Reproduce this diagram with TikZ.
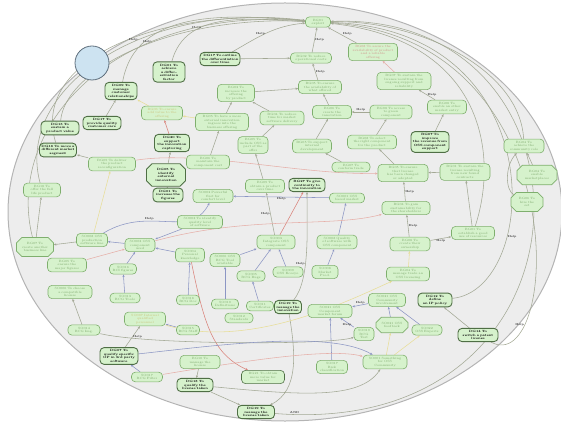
\documentclass[tikz,border=0pt]{standalone}
\usepackage{tikz}
\usetikzlibrary{arrows.meta, shapes.misc}

\definecolor{goalfill}{HTML}{D6F2CC}
\definecolor{goalline}{HTML}{7FAF6E}
\definecolor{goaltext}{HTML}{7DA86C}
\definecolor{goaldark}{HTML}{4F6F45}
\definecolor{yeltext}{HTML}{C9C07A}
\definecolor{pinktext}{HTML}{D0908A}
\definecolor{ovalfill}{HTML}{EDEDED}
\definecolor{ovalline}{HTML}{B4B4B4}
\definecolor{linkgray}{HTML}{A3A894}
\definecolor{linkblue}{HTML}{8C96C4}
\definecolor{linkpink}{HTML}{E6AFA8}
\definecolor{linkred}{HTML}{D9827A}
\definecolor{linkyellow}{HTML}{E8DE98}
\definecolor{actorfill}{HTML}{CDE3F1}
\definecolor{actorline}{HTML}{5E6E7C}

\pgfdeclarelayer{back}
\pgfsetlayers{back,main}

\begin{document}
\begin{tikzpicture}[x=1pt, y=-1pt,
        goal/.style={rectangle, draw=goalline, fill=goalfill, text=goaltext, rounded corners=4pt, align=center, text width=28pt, inner xsep=1.5pt, inner ysep=2pt, line width=0.6pt, font=\fontsize{3.1}{3.5}\selectfont},
        dgoal/.style={goal, draw=goaldark, text=black, line width=0.9pt, font=\fontsize{3.1}{3.5}\selectfont\bfseries},
        hexa/.style={chamfered rectangle, chamfered rectangle xsep=2.5pt, sharp corners},
        line/.style={draw=linkgray, line width=0.55pt, -{Stealth[length=2.6pt, width=2.2pt]}},
        bline/.style={line, draw=linkblue},
        pline/.style={line, draw=linkpink},
        rline/.style={line, draw=linkred},
        yline/.style={line, draw=linkyellow},
        hlp/.style={font=\fontsize{2.8}{3}\selectfont\bfseries, inner sep=0.4pt, text=black!80}
        ]
        \useasboundingbox (0,0) rectangle (561,430);
        \begin{pgfonlayer}{back}
          \draw[fill=ovalfill, draw=ovalline, line width=1pt] (285,212) ellipse [x radius=277pt, y radius=209pt];
        \end{pgfonlayer}
        \node[circle, draw=actorline, fill=actorfill, line width=0.8pt, minimum size=34pt] (actor) at (92,63) {};

        % upper goals
        \node[goal, text width=22pt] (exploit) at (318,22) {BG01\\exploit};
        \node[dgoal, text width=37pt] (outline) at (220,59) {DG17 To outline\\the differentiation\\over time};
        \node[goal, text width=38pt] (reducecost) at (311,58) {BG02 To reduce\\operational costs};
        \node[goal, text width=46pt, text=pinktext] (availab) at (373,52) {BG08 To assure the\\availability of product\\and a reliable\\offering};
        \node[dgoal, text width=29pt] (differ) at (169,72) {DG01 To achieve\\a differentiation\\factor};
        \node[dgoal, text width=29pt] (custrel) at (121,91) {DG09 To\\manage\\customer\\relationships};
        \node[goal, text width=40pt] (ensureavail) at (320,87) {BG05 To ensure\\the availability of\\what offered};
        \node[goal, text width=34pt] (incbusiness) at (236,93) {BG03 To\\increase the\\offering\\by product};
        \node[goal, text width=51pt] (sustainlic) at (404,81) {BG07 To sustain the\\license resulting from\\ongoing support and\\reliability};
        \node[goal, text width=38pt, text=yeltext] (addvalue) at (162,113) {BG06 To ensure\\add value to the\\offering};
        \node[dgoal, text width=35pt] (prodvalue) at (60,128) {DG13 To\\sustain a\\product value};
        \node[dgoal, text width=35pt] (custcare) at (102,123) {DG17 To\\provide quality\\customer care};
        \node[goal, text width=50pt] (extinnov) at (222,122) {BG05 To have a more\\external innovation\\ingress into the\\business offering};
        \node[goal, text width=41pt] (ttm) at (282,118) {BG04 To reduce\\time for market\\software delivery};
        \node[goal, text width=36pt] (createinnov) at (332,112) {BG06 To\\create the\\innovation};
        \node[goal, text width=39pt] (accessgreen) at (391,112) {BG08 To access\\to green\\component};
        \node[goal, text width=36pt] (othermarket) at (447,107) {BG08 To\\enable an other\\market entry};
        \node[dgoal, text width=32pt] (capture) at (172,143) {DG20 To support\\the innovation\\capturing};
        \node[dgoal, text width=34pt] (segment) at (58,150) {DG16 To move a\\different market\\segment};
        \node[goal, text width=44pt] (deliver) at (112,164) {BG05 To deliver\\the product\\reconfiguration};
        \node[dgoal, hexa, text width=31pt] (identify) at (166,175) {DG05 To\\identify external\\innovation};
        \node[goal, text width=27pt] (includeoss) at (253,145) {BG05 To\\include OSS as\\part of the\\offer};
        \node[goal, text width=36pt] (internaldev) at (312,146) {BG05 To support\\internal\\development};
        \node[goal, text width=46pt] (selectcomp) at (372,142) {BG08 To select\\the right component\\for the product};
        \node[dgoal, text width=35pt] (revenue) at (430,142) {BG07 To improve\\the revenue from\\OSS component\\support};
        \node[goal, text width=37pt] (communityrole) at (524,146) {BG04 To\\achieve the\\community role};

        % middle goals
        \node[goal, text width=34pt] (fulllife) at (42,190) {BG18 To\\offer the full\\life product};
        \node[dgoal, text width=27pt] (figures) at (168,195) {DG01 To\\increase the\\figures};
        \node[goal, text width=40pt] (compcost) at (208,162) {BG06 To\\maintain the\\component cost};
        \node[goal, text width=35pt] (conform) at (351,167) {BG07 To\\conform trade};
        \node[goal, text width=47pt] (licchanged) at (403,173) {BG05 To ensure\\that license\\has been changed\\or adopted};
        \node[goal, text width=47pt] (newcontract) at (465,172) {BG01 To sustain the\\license resulting\\from new found\\contracts};
        \node[goal, hexa, text width=32pt] (marketplaces) at (537,175) {BG04 To\\enable\\marketplaces};
        \node[goal, text width=36pt] (obtainprod) at (265,186) {BG09 To\\obtain a product\\over time};
        \node[dgoal, text width=33pt] (continuity) at (307,185) {BG27 To give\\continuity to\\the innovation};
        \node[goal, text width=37pt] (powerful) at (213,196) {SO002 Powerful\\first for\\comfort level};
        \node[goal, text width=32pt] (ossmarket) at (347,198) {SO001 OSS\\based market};
        \node[goal, hexa, text width=24pt] (hireset) at (527,202) {BG06 To\\hire the\\set};
        \node[goal, text width=45pt] (shareholders) at (406,208) {BG04 To gain\\sustainability for\\the shareholders};
        \node[goal, text width=42pt] (qualitylevel) at (200,222) {SO003 To identify\\quality level\\of software};
        \node[goal, text width=40pt] (resources) at (473,233) {BG01 To\\establish a good\\use of resources};
        \node[goal, hexa, text width=29pt] (busline) at (35,247) {BG07 To\\create another\\business line};
        \node[goal, text width=28pt] (prodline) at (92,240) {SO008 OSS\\production\\software line};
        \node[goal, text width=27pt] (compused) at (140,245) {SO003 OSS\\component\\used};
        \node[goal, text width=35pt] (integrate) at (276,242) {SO003\\Integrate OSS\\component};
        \node[goal, text width=37pt] (qualitysw) at (337,242) {SO008 Quality\\of software with\\OSS component};
        \node[goal, text width=37pt] (ownership) at (410,244) {BG08 To\\create their\\ownership};
        \node[goal, text width=36pt] (majorfig) at (67,265) {BG05 To\\ensure the\\major figures};
        \node[goal, text width=24pt] (rcifig) at (123,269) {SO016\\RCI figures};
        \node[goal, text width=26pt] (knowledge) at (190,255) {SO004\\Personal\\knowledge};
        \node[goal, text width=27pt] (rcgtool) at (225,260) {SO006 OSS\\RCG Tool\\available};
        \node[goal, text width=25pt] (rcgbugs) at (251,276) {SO005\\RCG Bugs};
        \node[goal, text width=27pt] (ecosys) at (288,272) {SO009\\OSS Ecosys.};
        \node[goal, text width=23pt] (marketprod) at (325,272) {SO008\\Market Prod.};
        \node[goal, text width=40pt] (licensing) at (408,274) {BG04 To\\manage trade an\\OSS licensing};

        % lower goals
        \node[goal, text width=41pt] (compatible) at (70,292) {SO006 To choose\\a compatible\\license};
        \node[goal, text width=27pt] (rcgtools) at (125,298) {SO013\\RCG Tools};
        \node[goal, text width=20pt] (rcgmisc) at (188,300) {SO018\\RCG Doc};
        \node[goal, text width=24pt] (definitions) at (225,304) {SO010\\Definitions};
        \node[goal, text width=24pt] (certificates) at (260,306) {SO011\\Certificates};
        \node[goal, text width=25pt] (standards) at (239,318) {SO012\\Standards};
        \node[dgoal, text width=24pt] (manageinnov) at (288,307) {DG19 To\\manage the\\innovation};
        \node[goal, text width=41pt] (marketforum) at (330,311) {SO021 OSS\\Component\\market forum};
        \node[goal, text width=34pt] (involvement) at (387,300) {SO021 OSS\\Community\\involvement};
        \node[dgoal, text width=31pt] (ippolicy) at (435,300) {DG12 To define\\an IP policy};
        \node[goal, text width=38pt, text=yeltext] (personnel) at (145,319) {SO007 Internal\\qualified\\personnel};
        \node[goal, text width=29pt] (rcgimg) at (84,330) {SO014\\RCG Img.};
        \node[goal, text width=20pt] (rcgstaff) at (188,330) {SO015\\RCG Staff};
        \node[goal, text width=17pt] (rcgother) at (364,334) {SO019\\RCG Test};
        \node[goal, hexa, text width=24pt] (feedback) at (392,325) {SO021 OSS\\feedback};
        \node[goal, text width=27pt] (experts) at (427,330) {SO022\\OSS Experts};
        \node[dgoal, text width=37pt] (patent) at (478,335) {DG14 To\\switch a patent\\license};
        \node[dgoal, text width=35pt] (qualifyop) at (119,356) {DG07 To\\qualify specific\\OP in 3rd party\\software};
        \node[goal, text width=28pt] (rcgfilter) at (147,377) {SO017\\RCG Filter};
        \node[goal, text width=37pt] (managelic) at (200,362) {BG10 To\\manage the\\license};
        \node[dgoal, text width=33pt] (qualifylic) at (195,385) {DG18 To\\qualify the\\license taken};
        \node[goal, text width=40pt, draw=goaldark] (morevalue) at (263,377) {BG21 To obtain\\more value for\\market};
        \node[goal, text width=28pt] (risk) at (332,367) {SO017\\Risk\\classification};
        \node[goal, text width=41pt] (osscommunity) at (385,362) {SO001 Something\\for OSS\\Community};
        \node[dgoal, text width=34pt] (licensetaken) at (256,412) {DG19 To\\manage the\\license taken};

        \begin{pgfonlayer}{back}
        % links to the root goal
        \path[line] (reducecost) -- node[hlp, right] {Help} (exploit);
        \path[line] (ensureavail) -- node[hlp, right] {Help} (reducecost);
        \path[line] (availab) -- node[hlp, above right] {Help} (exploit);
        \path[line] (outline) to[out=30, in=185] node[hlp, pos=0.4, above] {Help} (exploit);
        \path[line] (differ) to[out=75, in=178] node[hlp, pos=0.3, above] {Help} (exploit);
        \path[line] (custrel) to[out=80, in=175] (exploit);
        \path[line] (prodvalue) .. controls (65,70) and (170,15) .. node[hlp, pos=0.55, above] {Help} (exploit);
        \path[line] (segment) .. controls (30,60) and (160,5) .. (exploit);
        \path[line] (fulllife) .. controls (15,90) and (140,0) .. node[hlp, pos=0.6, above] {Help} (exploit);
        \path[line] (busline) .. controls (5,130) and (110,5) .. (exploit);
        \path[line] (licensetaken) .. controls (610,440) and (610,10) .. node[hlp, pos=0.02, above] {AND} (exploit);
        \path[line] (patent) .. controls (560,380) and (580,40) .. node[hlp, pos=0.2, left] {Help} (exploit);
        \path[line] (ippolicy) .. controls (540,290) and (555,30) .. node[hlp, pos=0.3, right] {Help} (exploit);
        \path[line] (communityrole) .. controls (520,70) and (420,20) .. (exploit);
        \path[line] (resources) .. controls (500,150) and (480,40) .. (exploit);

        % upper links
        \path[line] (incbusiness) -- (ensureavail);
        \path[line] (ttm) -- (incbusiness);
        \path[line] (createinnov) -- (ensureavail);
        \path[line] (accessgreen) -- node[hlp, above] {Help} (createinnov);
        \path[line] (othermarket) -- node[hlp, right] {Help} (sustainlic);
        \path[pline] (sustainlic) -- (availab);
        \path[line] (extinnov) -- (incbusiness);
        \path[line] (outline) -- (reducecost);
        \path[line] (includeoss) -- (ttm);
        \path[line] (internaldev) -- (createinnov);
        \path[line] (selectcomp) -- (accessgreen);
        \path[line] (revenue) -- (othermarket);
        \path[line] (conform) -- (internaldev);
        \path[line] (compcost) -- (extinnov);
        \path[yline] (addvalue) -- (custrel);
        \path[yline] (extinnov) -- (addvalue);
        \path[rline] (capture) -- (addvalue);
        \path[line] (identify) -- (capture);
        \path[line] (figures) -- (identify);
        \path[line] (custcare) -- (custrel);
        \path[line] (deliver) -- (segment);

        % middle links
        \path[line] (newcontract) -- (licchanged);
        \path[line] (licchanged) -- (selectcomp);
        \path[line] (shareholders) -- node[hlp, right] {Help} (licchanged);
        \path[line] (ownership) -- node[hlp, right] {Help} (shareholders);
        \path[line] (ownership) -- node[hlp, below] {Help} (resources);
        \path[line] (resources) -- (newcontract);
        \path[line] (marketplaces) -- (communityrole);
        \path[line] (hireset) .. controls (505,190) and (505,165) .. (communityrole);
        \path[yline] (licensing) -- (ownership);
        \path[bline] (ossmarket) -- node[hlp, below] {Help} (powerful);
        \path[bline] (qualitysw) -- (ossmarket);
        \path[rline] (integrate) -- (continuity);
        \path[line] (manageinnov) .. controls (310,280) and (307,230) .. node[hlp, pos=0.4, left] {Help} (continuity);
        \path[line] (integrate) -- node[hlp, left] {Help} (obtainprod);
        \path[line] (obtainprod) -- (includeoss);
        \path[bline] (rcgtool) -- (integrate);
        \path[bline] (rcgbugs) -- (integrate);
        \path[bline] (ecosys) -- (integrate);
        \path[bline] (marketprod) -- (qualitysw);
        \path[bline] (compused) -- (prodline);
        \path[bline] (rcifig) -- (compused);
        \path[pline] (majorfig) -- (compused);
        \path[bline] (rcgtools) -- (rcifig);
        \path[line] (prodline) -- (busline);
        \path[line] (busline) -- (fulllife);
        \path[yline] (prodline) -- (deliver);
        \path[bline] (qualitylevel) -- (compused);
        \path[bline] (knowledge) -- (compused);
        \path[bline] (prodline) .. controls (150,205) and (190,240) .. node[hlp, pos=0.35, above] {Help} (powerful);
        \path[pline] (compused) .. controls (250,215) and (330,228) .. (shareholders);
        \path[pline] (deliver) .. controls (200,150) and (300,175) .. (licchanged);

        % lower links
        \path[line] (rcgimg) -- (compatible);
        \path[line] (qualifyop) -- node[hlp, right] {Help} (personnel);
        \path[bline] (rcgfilter) -- (qualifyop);
        \path[bline] (rcgstaff) -- (personnel);
        \path[line] (qualifylic) -- (licensetaken);
        \path[line] (managelic) -- (qualifylic);
        \path[line] (patent) -- (ippolicy);
        \path[bline] (feedback) -- (involvement);
        \path[bline] (experts) -- (involvement);
        \path[yline] (osscommunity) -- (feedback);
        \path[yline] (osscommunity) -- (experts);
        \path[bline] (involvement) -- node[hlp, above] {Help} (marketforum);
        \path[bline] (rcgother) -- node[hlp, below] {Help} (marketforum);
        \path[bline] (risk) -- (marketforum);
        \path[bline] (definitions) -- (rcgtool);
        \path[bline] (certificates) -- (rcgbugs);
        \path[bline] (rcgmisc) -- (knowledge);
        \path[rline] (knowledge) .. controls (205,330) and (215,355) .. (morevalue);
        \path[line] (manageinnov) .. controls (295,350) and (300,390) .. (licensetaken);
        \path[line] (rcgimg) .. controls (150,345) and (330,345) .. (rcgother);
        \path[yline] (personnel) .. controls (250,350) and (350,300) .. (licensing);
        \path[bline] (qualifyop) .. controls (220,345) and (330,330) .. (osscommunity);
        \path[pline] (rcgfilter) .. controls (250,360) and (330,348) .. (osscommunity);
        \path[line] (qualifylic) .. controls (300,395) and (360,400) .. (osscommunity);
        \end{pgfonlayer}
      \end{tikzpicture}
\end{document}
